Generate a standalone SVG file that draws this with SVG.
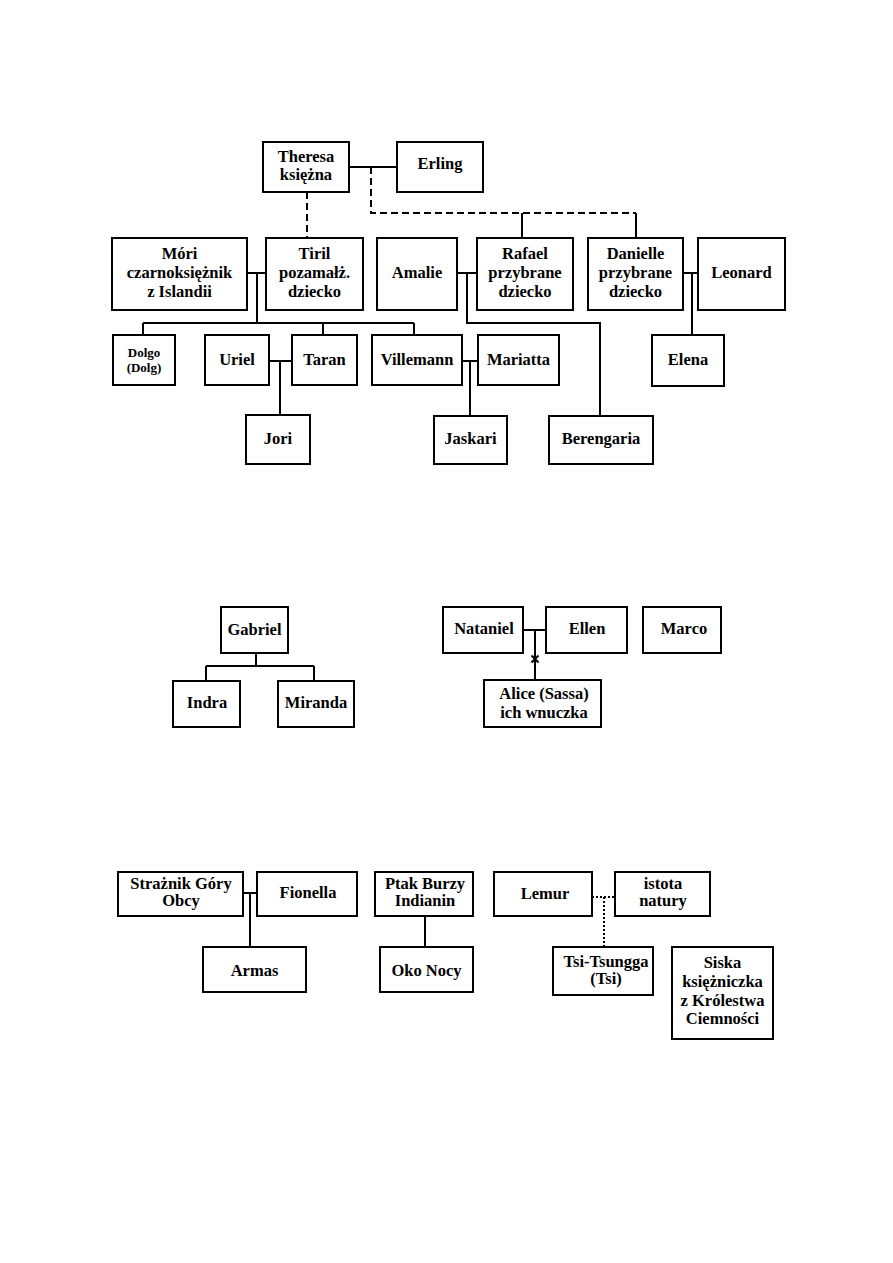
<svg xmlns="http://www.w3.org/2000/svg" width="893" height="1263" viewBox="0 0 893 1263">
<style>
.b{fill:#fff;stroke:#000;stroke-width:2}
.t{font-family:"Liberation Serif","Times New Roman",serif;font-weight:bold;font-size:16.5px;fill:#000;text-anchor:middle}
.s{font-size:13px}
.l{fill:none;stroke:#000;stroke-width:2}
.d{stroke-dasharray:7 4}
.o{stroke-dasharray:2 2}
</style>
<rect width="893" height="1263" fill="#fff"/>
<g id="connectors">
<path class="l" d="M349 167H397"/>
<path class="l d" d="M371 167V213H636"/>
<path class="l" d="M522 213V238M636 213V238"/>
<path class="l d" d="M307 192V238"/>
<path class="l" d="M247 273H266M257 273V323M143 323H414M143 323V335M323 323V335M414 323V335"/>
<path class="l" d="M457 273H477M467 273V323H600V416"/>
<path class="l" d="M683 273H698M692 273V335"/>
<path class="l" d="M269 361H292M280 361V415"/>
<path class="l" d="M462 361H478M470 361V416"/>
<path class="l" d="M256 653V666M206 666H314M206 666V681M314 666V681"/>
<path class="l" d="M523 630H546M535 630V680"/>
<path class="l" d="M531.5 655.5L538.5 662.5M538.5 655.5L531.5 662.5" stroke-width="2"/>
<path class="l" d="M243 893H257M250 893V947"/>
<path class="l" d="M425 916V947"/>
<path class="l o" d="M592 897H615M604 897V947"/>
</g>
<g id="theresa"><rect class="b" x="263" y="142" width="86" height="50"/><text class="t" x="306" y="162">Theresa</text><text class="t" x="306" y="180">księżna</text></g>
<g id="erling"><rect class="b" x="397" y="142" width="86" height="50"/><text class="t" x="440" y="169">Erling</text></g>
<g id="mori"><rect class="b" x="112" y="238" width="135" height="72"/><text class="t" x="179.5" y="259">Móri</text><text class="t" x="179.5" y="278">czarnoksiężnik</text><text class="t" x="179.5" y="297">z Islandii</text></g>
<g id="tiril"><rect class="b" x="266" y="238" width="97" height="72"/><text class="t" x="314.5" y="259">Tiril</text><text class="t" x="314.5" y="278">pozamałż.</text><text class="t" x="314.5" y="297">dziecko</text></g>
<g id="amalie"><rect class="b" x="377" y="238" width="80" height="72"/><text class="t" x="417" y="278">Amalie</text></g>
<g id="rafael"><rect class="b" x="477" y="238" width="96" height="72"/><text class="t" x="525" y="259">Rafael</text><text class="t" x="525" y="278">przybrane</text><text class="t" x="525" y="297">dziecko</text></g>
<g id="danielle"><rect class="b" x="588" y="238" width="95" height="72"/><text class="t" x="635.5" y="259">Danielle</text><text class="t" x="635.5" y="278">przybrane</text><text class="t" x="635.5" y="297">dziecko</text></g>
<g id="leonard"><rect class="b" x="698" y="238" width="87" height="72"/><text class="t" x="741.5" y="278">Leonard</text></g>
<g id="dolgo"><rect class="b" x="113" y="335" width="62" height="50"/><text class="t s" x="144" y="357">Dolgo</text><text class="t s" x="144" y="372">(Dolg)</text></g>
<g id="uriel"><rect class="b" x="205" y="335" width="64" height="50"/><text class="t" x="237" y="365">Uriel</text></g>
<g id="taran"><rect class="b" x="292" y="335" width="65" height="50"/><text class="t" x="324.5" y="365">Taran</text></g>
<g id="villemann"><rect class="b" x="372" y="335" width="90" height="50"/><text class="t" x="417" y="365">Villemann</text></g>
<g id="mariatta"><rect class="b" x="478" y="335" width="81" height="50"/><text class="t" x="518.5" y="365">Mariatta</text></g>
<g id="elena"><rect class="b" x="652" y="335" width="72" height="51"/><text class="t" x="688" y="365">Elena</text></g>
<g id="jori"><rect class="b" x="246" y="415" width="64" height="49"/><text class="t" x="278" y="444">Jori</text></g>
<g id="jaskari"><rect class="b" x="434" y="416" width="73" height="48"/><text class="t" x="470.5" y="444">Jaskari</text></g>
<g id="berengaria"><rect class="b" x="549" y="416" width="104" height="48"/><text class="t" x="601" y="444">Berengaria</text></g>
<g id="gabriel"><rect class="b" x="221" y="607" width="67" height="46"/><text class="t" x="254.5" y="635">Gabriel</text></g>
<g id="indra"><rect class="b" x="173" y="681" width="67" height="46"/><text class="t" x="207" y="708">Indra</text></g>
<g id="miranda"><rect class="b" x="278" y="681" width="76" height="46"/><text class="t" x="316" y="708">Miranda</text></g>
<g id="nataniel"><rect class="b" x="443" y="607" width="80" height="46"/><text class="t" x="484" y="634">Nataniel</text></g>
<g id="ellen"><rect class="b" x="546" y="607" width="81" height="46"/><text class="t" x="587" y="634">Ellen</text></g>
<g id="marco"><rect class="b" x="643" y="607" width="78" height="46"/><text class="t" x="684" y="634">Marco</text></g>
<g id="alice"><rect class="b" x="484" y="680" width="117" height="47"/><text class="t" x="544" y="699">Alice (Sassa)</text><text class="t" x="544" y="718">ich wnuczka</text></g>
<g id="straznik"><rect class="b" x="118" y="872" width="125" height="44"/><text class="t" x="181" y="889">Strażnik Góry</text><text class="t" x="181" y="906">Obcy</text></g>
<g id="fionella"><rect class="b" x="257" y="872" width="100" height="44"/><text class="t" x="308" y="898">Fionella</text></g>
<g id="ptak"><rect class="b" x="375" y="872" width="98" height="44"/><text class="t" x="425" y="889">Ptak Burzy</text><text class="t" x="425" y="906">Indianin</text></g>
<g id="lemur"><rect class="b" x="494" y="872" width="98" height="44"/><text class="t" x="545" y="899">Lemur</text></g>
<g id="istota"><rect class="b" x="615" y="872" width="95" height="44"/><text class="t" x="663" y="889">istota</text><text class="t" x="663" y="906">natury</text></g>
<g id="armas"><rect class="b" x="203" y="947" width="103" height="45"/><text class="t" x="254.5" y="976">Armas</text></g>
<g id="oko"><rect class="b" x="380" y="947" width="93" height="45"/><text class="t" x="426.5" y="976">Oko Nocy</text></g>
<g id="tsi"><rect class="b" x="553" y="947" width="100" height="48"/><text class="t" x="606" y="967">Tsi-Tsungga</text><text class="t" x="606" y="984">(Tsi)</text></g>
<g id="siska"><rect class="b" x="672" y="947" width="101" height="92"/><text class="t" x="722.5" y="968">Siska</text><text class="t" x="722.5" y="987">księżniczka</text><text class="t" x="722.5" y="1006">z Królestwa</text><text class="t" x="722.5" y="1024">Ciemności</text></g>
</svg>
